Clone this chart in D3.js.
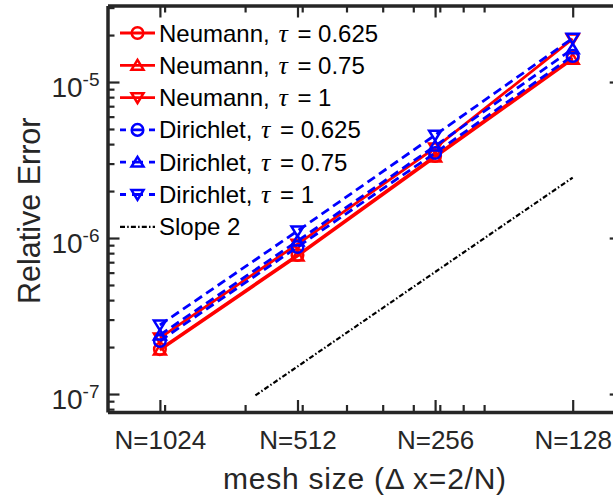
<!DOCTYPE html>
<html>
<head>
<meta charset="utf-8">
<script src="https://cdn.jsdelivr.net/npm/d3@7"></script>
<style>
  html, body { margin: 0; padding: 0; background: #fff; }
  svg { display: block; }
</style>
</head>
<body>
<script>
// ---------- data ----------
const categories = ["N=1024", "N=512", "N=256", "N=128"];
const meshSize = [0.001953125, 0.00390625, 0.0078125, 0.015625];

const neumann0625 = [1.94e-7, 7.78e-7, 3.36e-6, 1.43e-5];
const neumann075  = [1.91e-7, 7.66e-7, 3.30e-6, 1.40e-5];
const neumann1    = [2.29e-7, 9.15e-7, 3.78e-6, 1.89e-5];
const dirichlet0625 = [2.19e-7, 8.76e-7, 3.51e-6, 1.47e-5];
const dirichlet075  = [2.39e-7, 9.57e-7, 3.89e-6, 1.63e-5];
const dirichlet1    = [2.77e-7, 1.11e-6, 4.57e-6, 1.91e-5];

const slopeX = [0.00316, 0.015625];
const slopeY = [9.8e-8, 2.44e-6];

const seriesNames = ["Neumann", "Neumann", "Neumann", "Dirichlet", "Dirichlet", "Dirichlet"];
const tauLabels = ["0.625", "0.75", "1", "0.625", "0.75", "1"];
const slopeLabel = "Slope 2";

const yMajorExps = [-7, -6, -5];
const xMinorTicks = [0.002, 0.003, 0.004, 0.005, 0.006, 0.007, 0.008, 0.009, 0.01, 0.02];
const yMinorTicks = [8e-8, 9e-8, 2e-7, 3e-7, 4e-7, 5e-7, 6e-7, 7e-7, 8e-7, 9e-7,
                     2e-6, 3e-6, 4e-6, 5e-6, 6e-6, 7e-6, 8e-6, 9e-6, 2e-5, 3e-5];
const xDomain = [0.0015, 0.02];
const yDomain = [7.67e-8, 3.094e-5];

// ---------- layout ----------
const W = 613, H = 501;
const L = 107.5, R = 621.7, T = 5.5, B = 412;
const axisColor = "#262626";
const font = "'Liberation Sans', Arial, Helvetica, sans-serif";

const svg = d3.select("body").append("svg").attr("width", W).attr("height", H);
svg.append("rect").attr("width", W).attr("height", H).attr("fill", "#fff");

const x = d3.scaleLog().domain(xDomain).range([L, R]);
const y = d3.scaleLog().domain(yDomain).range([B, T]);

const series = [
  { vals: neumann0625, color: "#ff0000", dash: null, marker: "o" },
  { vals: neumann075,  color: "#ff0000", dash: null, marker: "^" },
  { vals: neumann1,    color: "#ff0000", dash: null, marker: "v" },
  { vals: dirichlet0625, color: "#0000ff", dash: "9,5", marker: "o" },
  { vals: dirichlet075,  color: "#0000ff", dash: "9,5", marker: "^" },
  { vals: dirichlet1,    color: "#0000ff", dash: "9,5", marker: "v" }
];

const markerPath = {
  "o": d3.symbol().type(d3.symbolCircle).size(Math.PI * 5.8 * 5.8)(),
  "^": "M0,-5.4L6,4.4L-6,4.4Z",
  "v": "M0,5.4L6,-4.4L-6,-4.4Z"
};

const line = d3.line().x(d => x(d[0])).y(d => y(d[1]));

const plot = svg.append("g");
series.forEach(s => {
  const pts = meshSize.map((m, i) => [m, s.vals[i]]);
  plot.append("path").datum(pts).attr("d", line)
    .attr("fill", "none").attr("stroke", s.color).attr("stroke-width", 2.8)
    .attr("stroke-dasharray", s.dash);
  plot.selectAll(null).data(pts).enter().append("path")
    .attr("d", markerPath[s.marker])
    .attr("transform", d => `translate(${x(d[0])},${y(d[1])})`)
    .attr("fill", "none").attr("stroke", s.color).attr("stroke-width", 2.5);
});

// slope line
plot.append("path").datum(slopeX.map((v, i) => [v, slopeY[i]])).attr("d", line)
  .attr("fill", "none").attr("stroke", "#000").attr("stroke-width", 2.2)
  .attr("stroke-dasharray", "5,2.2,1.5,2.2");

// ---------- axes ----------
function styleAxis(g) {
  g.select(".domain").attr("stroke", axisColor).attr("stroke-width", 3.5);
  g.selectAll(".tick line").attr("stroke", axisColor).attr("stroke-width", 2.2);
}

// minor ticks
svg.append("g").attr("transform", `translate(0,${B})`)
  .call(d3.axisBottom(x).tickValues(xMinorTicks).tickSizeInner(-7).tickSizeOuter(0).tickFormat(""))
  .call(styleAxis).call(g => g.select(".domain").remove());
svg.append("g").attr("transform", `translate(0,${T})`)
  .call(d3.axisTop(x).tickValues(xMinorTicks).tickSizeInner(-7).tickSizeOuter(0).tickFormat(""))
  .call(styleAxis).call(g => g.select(".domain").remove());
svg.append("g").attr("transform", `translate(${L},0)`)
  .call(d3.axisLeft(y).tickValues(yMinorTicks).tickSizeInner(-7).tickSizeOuter(0).tickFormat(""))
  .call(styleAxis).call(g => g.select(".domain").remove());
svg.append("g").attr("transform", `translate(${R},0)`)
  .call(d3.axisRight(y).tickValues(yMinorTicks).tickSizeInner(-7).tickSizeOuter(0).tickFormat(""))
  .call(styleAxis).call(g => g.select(".domain").remove());

// major: bottom
const gx = svg.append("g").attr("transform", `translate(0,${B})`)
  .call(d3.axisBottom(x).tickValues(meshSize).tickSizeInner(-12).tickSizeOuter(0)
    .tickFormat((d, i) => categories[i]))
  .call(styleAxis);
gx.selectAll(".tick text").attr("y", 37).attr("dy", null)
  .attr("fill", axisColor).attr("font-size", 26).attr("font-family", font);

// top
svg.append("g").attr("transform", `translate(0,${T})`)
  .call(d3.axisTop(x).tickValues(meshSize).tickSizeInner(-12).tickSizeOuter(0).tickFormat(""))
  .call(styleAxis);

// left
const yMajor = yMajorExps.map(e => Math.pow(10, e));
const gy = svg.append("g").attr("transform", `translate(${L},0)`)
  .call(d3.axisLeft(y).tickValues(yMajor).tickSizeInner(-12).tickSizeOuter(0))
  .call(styleAxis);
gy.selectAll(".tick text").each(function(d, i) {
  const t = d3.select(this);
  t.text(null).attr("x", -8).attr("y", 14).attr("dy", null)
    .attr("fill", axisColor).attr("font-family", font).attr("text-anchor", "end");
  t.append("tspan").attr("font-size", 28).text("10");
  t.append("tspan").attr("font-size", 19).attr("dy", -11).text(String(yMajorExps[i]));
});

// right
svg.append("g").attr("transform", `translate(${R},0)`)
  .call(d3.axisRight(y).tickValues(yMajor).tickSizeInner(-12).tickSizeOuter(0).tickFormat(""))
  .call(styleAxis);

// axis labels
svg.append("text").attr("x", (L + R) / 2).attr("y", 489)
  .attr("text-anchor", "middle").attr("font-family", font).attr("font-size", 30)
  .attr("textLength", 283).attr("lengthAdjust", "spacing")
  .attr("fill", axisColor).text("mesh size (\u0394 x=2/N)");
svg.append("text").attr("transform", `translate(40,${(T + B) / 2 + 2}) rotate(-90)`)
  .attr("text-anchor", "middle").attr("font-family", font).attr("font-size", 30.5)
  .attr("fill", axisColor).text("Relative Error");

// ---------- legend ----------
const lg = svg.append("g");
const ly0 = 33, lstep = 32.3, lx0 = 120, lx1 = 155, tx = 159;
series.forEach((s, i) => {
  const cy = ly0 + i * lstep;
  lg.append("line").attr("x1", lx0).attr("x2", lx1).attr("y1", cy).attr("y2", cy)
    .attr("stroke", s.color).attr("stroke-width", 2.8)
    .attr("stroke-dasharray", s.dash ? "6,6,11,6,6" : null);
  lg.append("path").attr("d", markerPath[s.marker])
    .attr("transform", `translate(${(lx0 + lx1) / 2},${cy})`)
    .attr("fill", "none").attr("stroke", s.color).attr("stroke-width", 2.5);
  const t = lg.append("text").attr("x", tx).attr("y", cy + 8.5)
    .attr("font-family", font).attr("font-size", 24).attr("fill", "#000")
    .attr("xml:space", "preserve");
  t.append("tspan").text(seriesNames[i] + ", ");
  t.append("tspan").attr("font-family", "'Liberation Serif', 'DejaVu Serif', serif")
    .attr("font-style", "italic").attr("font-size", 26).attr("dx", 2).text("\u03c4");
  t.append("tspan").attr("dx", 3).text(" = " + tauLabels[i]);
});
{
  const cy = ly0 + 6 * lstep;
  lg.append("line").attr("x1", lx0).attr("x2", lx1).attr("y1", cy).attr("y2", cy)
    .attr("stroke", "#000").attr("stroke-width", 2.2).attr("stroke-dasharray", "5,2.2,1.5,2.2");
  lg.append("text").attr("x", tx).attr("y", cy + 8.5)
    .attr("font-family", font).attr("font-size", 24).attr("fill", "#000").text(slopeLabel);
}
</script>
</body>
</html>
